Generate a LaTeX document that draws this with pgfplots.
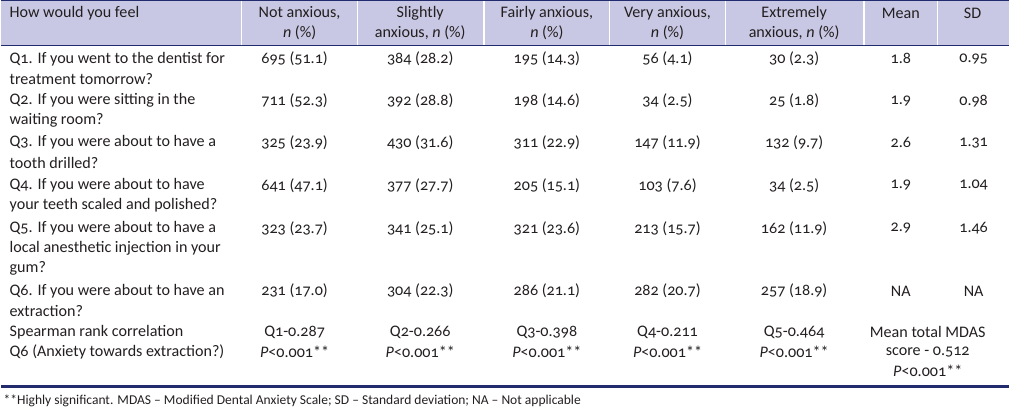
\documentclass[border=0pt]{standalone}
\usepackage{fontspec}
\setmainfont{Carlito}[Numbers=OldStyle]
\usepackage{pgfplots}
\pgfplotsset{compat=1.18}
\definecolor{navy}{RGB}{33,43,110}
\definecolor{hdr}{RGB}{200,200,228}
\definecolor{txt}{RGB}{35,31,32}
\begin{document}
\begin{tikzpicture}[font=\fontsize{16.2}{19}\selectfont,
  lab/.style={anchor=west,text=txt,inner sep=0pt},
  hd/.style={anchor=center,text=txt,inner sep=0pt}]
\begin{axis}[width=1010bp,height=409bp,scale only axis,hide axis,
  xmin=0,xmax=1010,ymin=0,ymax=409,y dir=reverse,clip=false,
  cell/.style={draw=none,mark=none,nodes near coords,point meta=explicit symbolic,
    every node near coord/.append style={anchor=center,text=txt,inner sep=0pt}}]
% header band
\fill[hdr] (axis cs:0,0) rectangle (axis cs:1010,46);
\foreach \xx in {241,357,484,610,726,865,939}{
  \edef\tmp{\noexpand\draw[white,line width=1.2pt] (axis cs:\xx,1) -- (axis cs:\xx,45);}\tmp}
\draw[navy,line width=1.2pt] (axis cs:0,0.6) -- (axis cs:1010,0.6);
\draw[navy,line width=1.2pt] (axis cs:0,46) -- (axis cs:1010,46);
\draw[navy,line width=3pt] (axis cs:0,388) -- (axis cs:1010,388);
% header text
\node[lab] at (axis cs:8,13) {How would you feel};
\node[hd] at (axis cs:299,13) {Not anxious,};
\node[hd] at (axis cs:299,33) {\textit{n} (\%)};
\node[hd] at (axis cs:420,13) {Slightly};
\node[hd] at (axis cs:420,33) {anxious, \textit{n} (\%)};
\node[hd] at (axis cs:547,13) {Fairly anxious,};
\node[hd] at (axis cs:547,33) {\textit{n} (\%)};
\node[hd] at (axis cs:668,13) {Very anxious,};
\node[hd] at (axis cs:668,33) {\textit{n} (\%)};
\node[hd] at (axis cs:795,13) {Extremely};
\node[hd] at (axis cs:795,33) {anxious, \textit{n} (\%)};
\node[hd] at (axis cs:902,13) {Mean};
\node[hd] at (axis cs:974,13) {SD};
% first column
\node[lab] at (axis cs:8,59) {Q1. If you went to the dentist for};
\node[lab] at (axis cs:8,79) {treatment tomorrow?};
\node[lab] at (axis cs:8,101) {Q2. If you were sitting in the};
\node[lab] at (axis cs:8,121) {waiting room?};
\node[lab] at (axis cs:8,143) {Q3. If you were about to have a};
\node[lab] at (axis cs:8,163) {tooth drilled?};
\node[lab] at (axis cs:8,186) {Q4. If you were about to have};
\node[lab] at (axis cs:8,206) {your teeth scaled and polished?};
\node[lab] at (axis cs:8,229) {Q5. If you were about to have a};
\node[lab] at (axis cs:8,249) {local anesthetic injection in your};
\node[lab] at (axis cs:8,269) {gum?};
\node[lab] at (axis cs:8,292) {Q6. If you were about to have an};
\node[lab] at (axis cs:8,312) {extraction?};
\node[lab] at (axis cs:8,333) {Spearman rank correlation};
\node[lab] at (axis cs:8,353) {Q6 (Anxiety towards extraction?)};
% data columns
\addplot[cell] coordinates {(294,59)[695 (51.1)] (294,101)[711 (52.3)] (294,143)[325 (23.9)]
  (294,186)[641 (47.1)] (294,229)[323 (23.7)] (294,292)[231 (17.0)]
  (294,333)[Q1-0.287] (294,353)[\textit{P}<0.001**]};
\addplot[cell] coordinates {(420,59)[384 (28.2)] (420,101)[392 (28.8)] (420,143)[430 (31.6)]
  (420,186)[377 (27.7)] (420,229)[341 (25.1)] (420,292)[304 (22.3)]
  (420,333)[Q2-0.266] (420,353)[\textit{P}<0.001**]};
\addplot[cell] coordinates {(547,59)[195 (14.3)] (547,101)[198 (14.6)] (547,143)[311 (22.9)]
  (547,186)[205 (15.1)] (547,229)[321 (23.6)] (547,292)[286 (21.1)]
  (547,333)[Q3-0.398] (547,353)[\textit{P}<0.001**]};
\addplot[cell] coordinates {(668,59)[56 (4.1)] (668,101)[34 (2.5)] (668,143)[147 (11.9)]
  (668,186)[103 (7.6)] (668,229)[213 (15.7)] (668,292)[282 (20.7)]
  (668,333)[Q4-0.211] (668,353)[\textit{P}<0.001**]};
\addplot[cell] coordinates {(795,59)[30 (2.3)] (795,101)[25 (1.8)] (795,143)[132 (9.7)]
  (795,186)[34 (2.5)] (795,229)[162 (11.9)] (795,292)[257 (18.9)]
  (795,333)[Q5-0.464] (795,353)[\textit{P}<0.001**]};
\addplot[cell] coordinates {(902,59)[1.8] (902,101)[1.9] (902,143)[2.6]
  (902,186)[1.9] (902,229)[2.9] (902,292)[NA]};
\addplot[cell] coordinates {(975,59)[0.95] (975,101)[0.98] (975,143)[1.31]
  (975,186)[1.04] (975,229)[1.46] (975,292)[NA]};
\addplot[cell] coordinates {(929,333)[Mean total MDAS] (929,353)[score - 0.512] (929,372)[\textit{P}<0.001**]};
% footnote
\node[lab,font=\fontsize{13.6}{15}\selectfont] at (axis cs:2,402) {**Highly significant. MDAS – Modified Dental Anxiety Scale; SD – Standard deviation; NA – Not applicable};
\end{axis}
\end{tikzpicture}
\end{document}
